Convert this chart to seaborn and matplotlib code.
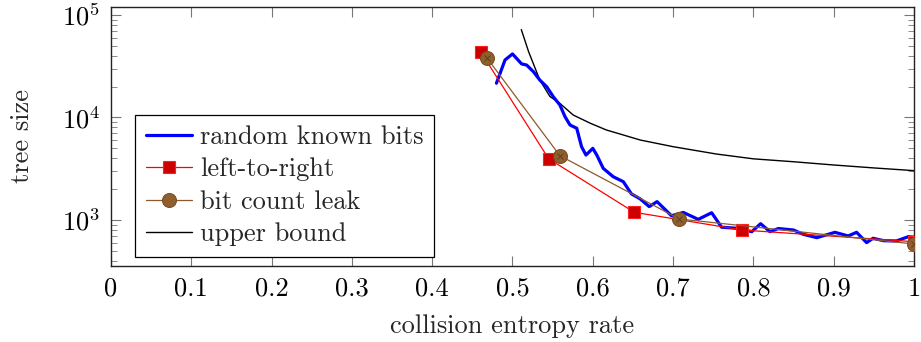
"""Tree size vs collision entropy rate (log scale)."""

import matplotlib
matplotlib.use("Agg")
import matplotlib.pyplot as plt
import matplotlib.ticker as mticker
import numpy as np
import pandas as pd
import seaborn as sns

# ── Data ──
rkb_x = [0.480, 0.4907, 0.500, 0.5114, 0.5176, 0.526, 0.534, 0.5426, 0.5508,
         0.559, 0.5654, 0.5716, 0.580, 0.586, 0.5915, 0.600, 0.605, 0.613,
         0.6255, 0.638, 0.648, 0.6588, 0.6703, 0.680, 0.698, 0.7127, 0.7313,
         0.748, 0.7604, 0.779, 0.798, 0.809, 0.8206, 0.831, 0.850, 0.862,
         0.879, 0.9016, 0.918, 0.9285, 0.941, 0.949, 0.962, 0.978, 0.993, 1.0]
rkb_y = [21600, 36400, 41700, 33300, 32500, 28000, 23200, 19950, 15950,
         13250, 10190, 8450, 7850, 5190, 4300, 5000, 4300, 3190,
         2640, 2365, 1800, 1610, 1350, 1510, 1100, 1185, 1014,
         1177, 850, 830, 769, 920, 769, 825, 798, 725,
         672, 758, 698, 758, 601, 663, 628, 624, 687, 680]

ltr_x = [0.4608, 0.545, 0.6516, 0.786, 1.0]
ltr_y = [43250, 3960, 1189, 798, 614]

bcl_x = [0.468, 0.559, 0.7077, 1.0]
bcl_y = [38300, 4240, 1023, 583]

ub_x = [0.511, 0.52, 0.534, 0.5467, 0.559, 0.5756, 0.597, 0.617, 0.638, 0.659,
        0.70, 0.754, 0.80, 0.85, 0.90, 0.95, 1.0]
ub_y = [72000, 44000, 23200, 16000, 13740, 10570, 8780, 7550, 6750, 6030,
        5190, 4400, 3950, 3700, 3440, 3220, 3030]

xticks = [0, 0.1, 0.2, 0.3, 0.4, 0.5, 0.6, 0.7, 0.8, 0.9, 1]
xtick_labels = ["0", "0.1", "0.2", "0.3", "0.4", "0.5", "0.6", "0.7", "0.8", "0.9", "1"]

# ── Style ──
sns.set_style("ticks")
plt.rcParams.update({
    "font.family": ["cmr10", "DejaVu Serif"],
    "mathtext.fontset": "cm",
    "axes.formatter.use_mathtext": True,
    "font.size": 19,
    "axes.linewidth": 1.0,
    "xtick.direction": "in",
    "ytick.direction": "in",
    "xtick.top": True,
    "ytick.right": True,
    "xtick.major.size": 7,
    "ytick.major.size": 7,
    "ytick.minor.size": 4.5,
    "xtick.major.width": 0.8,
    "ytick.major.width": 0.8,
    "ytick.minor.width": 0.6,
    "xtick.color": "#777777",
    "ytick.color": "#777777",
    "xtick.labelcolor": "black",
    "ytick.labelcolor": "black",
    "xtick.major.pad": 8,
    "ytick.major.pad": 8,
})

fig = plt.figure(figsize=(9.21, 3.42), dpi=100)
ax = fig.add_axes([0.1205, 0.2231, 0.8719, 0.7573])

rkb = pd.DataFrame({"x": rkb_x, "y": rkb_y})
ltr = pd.DataFrame({"x": ltr_x, "y": ltr_y})
bcl = pd.DataFrame({"x": bcl_x, "y": bcl_y})
ub = pd.DataFrame({"x": ub_x, "y": ub_y})

sns.lineplot(data=rkb, x="x", y="y", ax=ax, color="#0000ff", linewidth=2.3,
             sort=False, estimator=None, label="random known bits", zorder=3)
sns.lineplot(data=ltr, x="x", y="y", ax=ax, color="#ff0000", linewidth=0.9,
             marker="s", markersize=9, markerfacecolor="#cc0000",
             markeredgecolor="#ff2020", markeredgewidth=0.8,
             sort=False, estimator=None, label="left-to-right", zorder=4)
sns.lineplot(data=bcl, x="x", y="y", ax=ax, color="#8c5a2b", linewidth=0.9,
             marker="o", markersize=10, markerfacecolor="#8f5f2e",
             markeredgecolor="#7a4d22", markeredgewidth=0.8,
             sort=False, estimator=None, label="bit count leak", zorder=5)
# the cross inside each circle (otimes mark)
ax.plot(bcl_x, bcl_y, linestyle="none", marker="x", markersize=5,
        markeredgecolor="#5a3a18", markeredgewidth=0.6, zorder=6)
sns.lineplot(data=ub, x="x", y="y", ax=ax, color="black", linewidth=1.0,
             sort=False, estimator=None, label="upper bound", zorder=2)

ax.set_yscale("log")
ax.set_xlim(0, 1)
ax.set_ylim(358, 120500)
ax.set_xticks(xticks)
ax.set_xticklabels(xtick_labels)
ax.yaxis.set_major_locator(mticker.LogLocator(base=10, numticks=10))
ax.yaxis.set_minor_locator(mticker.LogLocator(base=10, subs=np.arange(2, 10), numticks=10))
ax.yaxis.set_minor_formatter(mticker.NullFormatter())
ax.tick_params(axis="x", which="minor", bottom=False, top=False)

ax.set_xlabel("collision entropy rate", labelpad=10)
ax.set_ylabel("tree size", labelpad=20)

leg = ax.legend(loc="lower left", bbox_to_anchor=(0.03, 0.034), frameon=True,
                fancybox=False, framealpha=1, edgecolor="black",
                handlelength=1.75, handletextpad=0.3, labelspacing=0.33,
                borderpad=0.4, borderaxespad=0, fontsize=19)
leg.get_frame().set_linewidth(0.9)

for spine in ax.spines.values():
    spine.set_edgecolor("#222222")

fig.savefig("out.png", dpi=100)
plt.close(fig)
